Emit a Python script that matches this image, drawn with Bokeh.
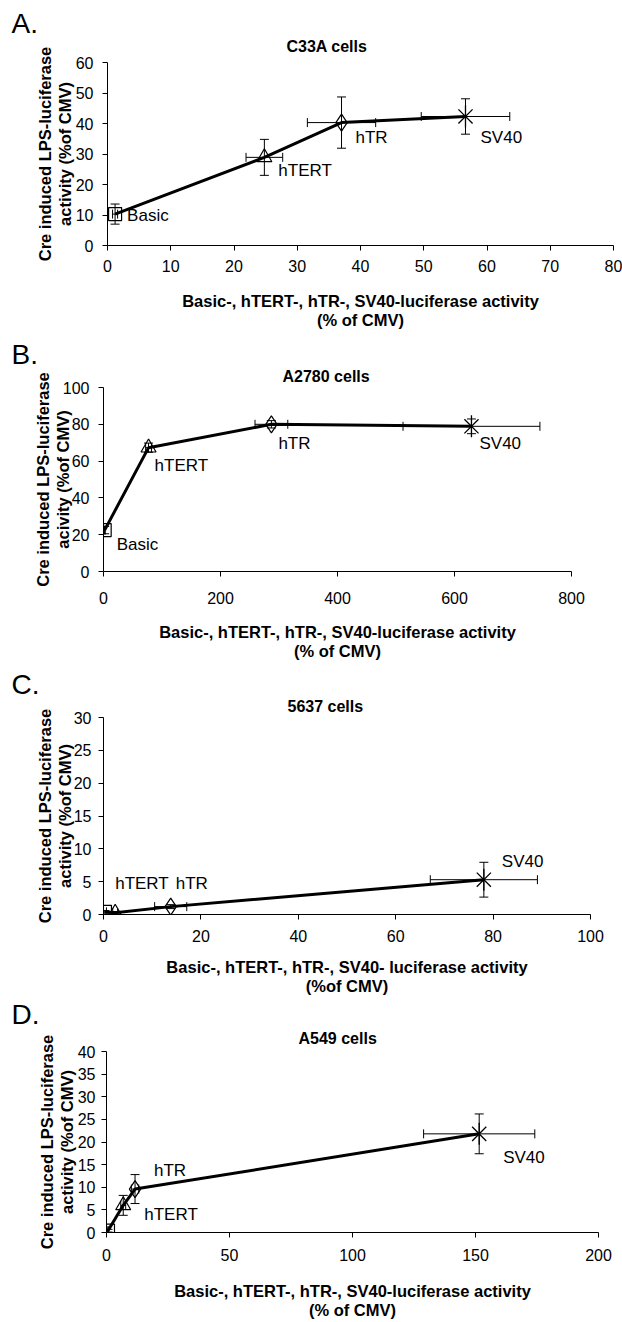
import math
from bokeh.plotting import figure
from bokeh.models import ColumnDataSource, Whisker, TeeHead, Range1d, FixedTicker, Title
from bokeh.embed import file_html
from bokeh.resources import INLINE
from bokeh.core.properties import value

# ---------------- data ----------------
constructs = ["Basic", "hTERT", "hTR", "SV40"]

# Panel A - C33A cells
A_x = [1.2, 24.8, 37.0, 56.6]
A_y = [10.3, 28.9, 40.3, 42.3]
A_xerr = [0.4, 2.9, 5.4, 7.0]
A_yerr = [3.3, 5.9, 8.4, 5.8]

# Panel B - A2780 cells
B_x = [2.0, 77.0, 287.0, 629.0]
B_y = [22.5, 67.3, 80.0, 78.9]
B_xerr = [1.0, 5.0, 28.0, 117.0]
B_yerr = [2.0, 2.5, 2.0, 4.0]

# Panel C - 5637 cells
C_x = [0.3, 2.4, 13.8, 78.1]
C_y = [0.4, 0.25, 1.2, 5.3]
C_xerr = [0.3, 0.5, 3.3, 11.0]
C_yerr = [0.2, 0.2, 0.3, 2.65]

# Panel D - A549 cells
D_x = [0.6, 6.8, 11.6, 151.5]
D_y = [0.4, 6.0, 9.6, 21.8]
D_xerr = [0.3, 1.0, 1.5, 22.6]
D_yerr = [0.3, 2.2, 3.2, 4.4]

FONT = "Liberation Sans"
W = 622


def panel(geom, xs, ys, xerr, yerr, xmax, xstep, ymax, ystep,
          texts, lab_offsets, st, letter, title, ytitle, xtitle, tpos, spacer=None):
    H, T, L, FW, FH = geom
    p = figure(width=W, height=H, x_range=Range1d(0, xmax), y_range=Range1d(0, ymax),
               output_backend="svg", toolbar_location=None,
               min_border_left=L, min_border_right=W - L - FW,
               min_border_top=T, min_border_bottom=H - T - FH)
    p.background_fill_color = "white"
    p.border_fill_color = "white"
    p.outline_line_color = None
    p.grid.visible = False
    for ax, ticks in ((p.xaxis, list(range(0, xmax + 1, xstep))),
                      (p.yaxis, list(range(0, ymax + 1, ystep)))):
        ax.ticker = FixedTicker(ticks=ticks)
        ax.axis_line_color = "black"
        ax.axis_line_width = 1
        ax.major_tick_line_color = "black"
        ax.major_tick_out = 5
        ax.major_tick_in = 0
        ax.minor_tick_line_color = None
        ax.major_label_text_font = FONT
        ax.major_label_text_font_size = "16px"
        ax.major_label_text_color = "black"
        ax.axis_label_text_font = FONT
        ax.axis_label_text_font_size = "16.5px"
        ax.axis_label_text_font_style = "bold"
        ax.axis_label_text_color = "black"
        ax.axis_label_text_line_height = 1.1
    p.xaxis.major_label_standoff = st[0]
    p.yaxis.major_label_standoff = st[1]
    p.xaxis.axis_label_standoff = st[2]
    p.yaxis.axis_label_standoff = st[3]
    p.xaxis.axis_label = xtitle
    p.yaxis.axis_label = ytitle

    src = ColumnDataSource(dict(
        x=xs, y=ys,
        xl=[a - b for a, b in zip(xs, xerr)], xu=[a + b for a, b in zip(xs, xerr)],
        yl=[a - b for a, b in zip(ys, yerr)], yu=[a + b for a, b in zip(ys, yerr)],
    ))
    p.line("x", "y", source=src, line_width=3, line_color="black")
    for base, lo, up, dim in (("x", "yl", "yu", "height"), ("y", "xl", "xu", "width")):
        p.add_layout(Whisker(source=src, base=base, lower=lo, upper=up, dimension=dim,
                             line_width=1, line_color="black",
                             lower_head=TeeHead(size=9, line_width=1, line_color="black"),
                             upper_head=TeeHead(size=9, line_width=1, line_color="black")))
    markers = [("square", 13), ("triangle", 15), ("diamond", 17)]
    for i, (m, s) in enumerate(markers):
        p.scatter([xs[i]], [ys[i]], marker=m, size=s, fill_color=None,
                  line_color="black", line_width=1.2)
    p.scatter([xs[3]], [ys[3]], marker="x", size=20, line_color="black", line_width=1.3)
    p.scatter([xs[3]], [ys[3]], marker="dash", size=22, angle=math.pi / 2,
              line_color="black", line_width=1.3)

    for i, t in enumerate(texts):
        if t is None:
            continue
        dx, dy = lab_offsets[i]
        p.text([xs[i]], [ys[i]], text=[t], x_offset=dx, y_offset=dy,
               text_font=value(FONT), text_font_size="17px", text_color="black",
               text_align="left", text_baseline="middle")

    # cell-line title (closest to the frame), then panel letter above it
    p.add_layout(Title(text=title, align="left", offset=tpos[0] - L, standoff=tpos[1],
                       text_font=FONT, text_font_size="16px", text_font_style="bold",
                       text_color="black"), "above")
    p.add_layout(Title(text=letter, align="left", offset=-(L - 11), standoff=tpos[2],
                       text_font=FONT, text_font_size="28px", text_font_style="normal",
                       text_color="black"), "above")
    if spacer:
        p.add_layout(Title(text=".", text_font_size=spacer, text_color="white",
                           standoff=0), "above")
    return p


YT = "Cre induced LPS-luciferase\nactivity (%of CMV)"
XT = "Basic-, hTERT-, hTR-, SV40-luciferase activity\n(% of CMV)"

pA = panel((335, 62, 107, 506, 183), A_x, A_y, A_xerr, A_yerr, 80, 10, 60, 10,
           constructs, [(12, 1.5), (14, 13), (14, 15), (15, 21)], (9, 9, 17, -1),
           "A.", "C33A cells", YT, XT, (286, 15, -21), spacer="4px")

pB = panel((333, 52, 103, 468, 184), B_x, B_y, B_xerr, B_yerr, 800, 200, 100, 20,
           constructs, [(12, 14), (6, 18), (7, 19), (8, 17)], (15, 9, 16, -12),
           "B.", "A2780 cells", "Cre induced LPS-luciferase\nacivity (%of CMV)", XT,
           (282, 5, -12))

pC = panel((330, 49, 103, 487, 198), C_x, C_y, C_xerr, C_yerr, 100, 20, 30, 5,
           [None, "hTERT", "hTR", "SV40"], [(0, 0), (0, -29), (5, -23), (18, -18)],
           (10, 7, 13, -3),
           "C.", "5637 cells", YT,
           "Basic-, hTERT-, hTR-, SV40- luciferase activity\n(%of CMV)", (287, 6, -14))

pD = panel((324, 53, 106, 492, 183), D_x, D_y, D_xerr, D_yerr, 200, 50, 40, 5,
           [None, "hTERT", "hTR", "SV40"], [(0, 0), (21, 9), (19, -19), (24, 24)],
           (11, 6, 18, -1),
           "D.", "A549 cells", YT, XT, (298, 9, -13))

open("out.html", "w").write(file_html([pA, pB, pC, pD], INLINE))
